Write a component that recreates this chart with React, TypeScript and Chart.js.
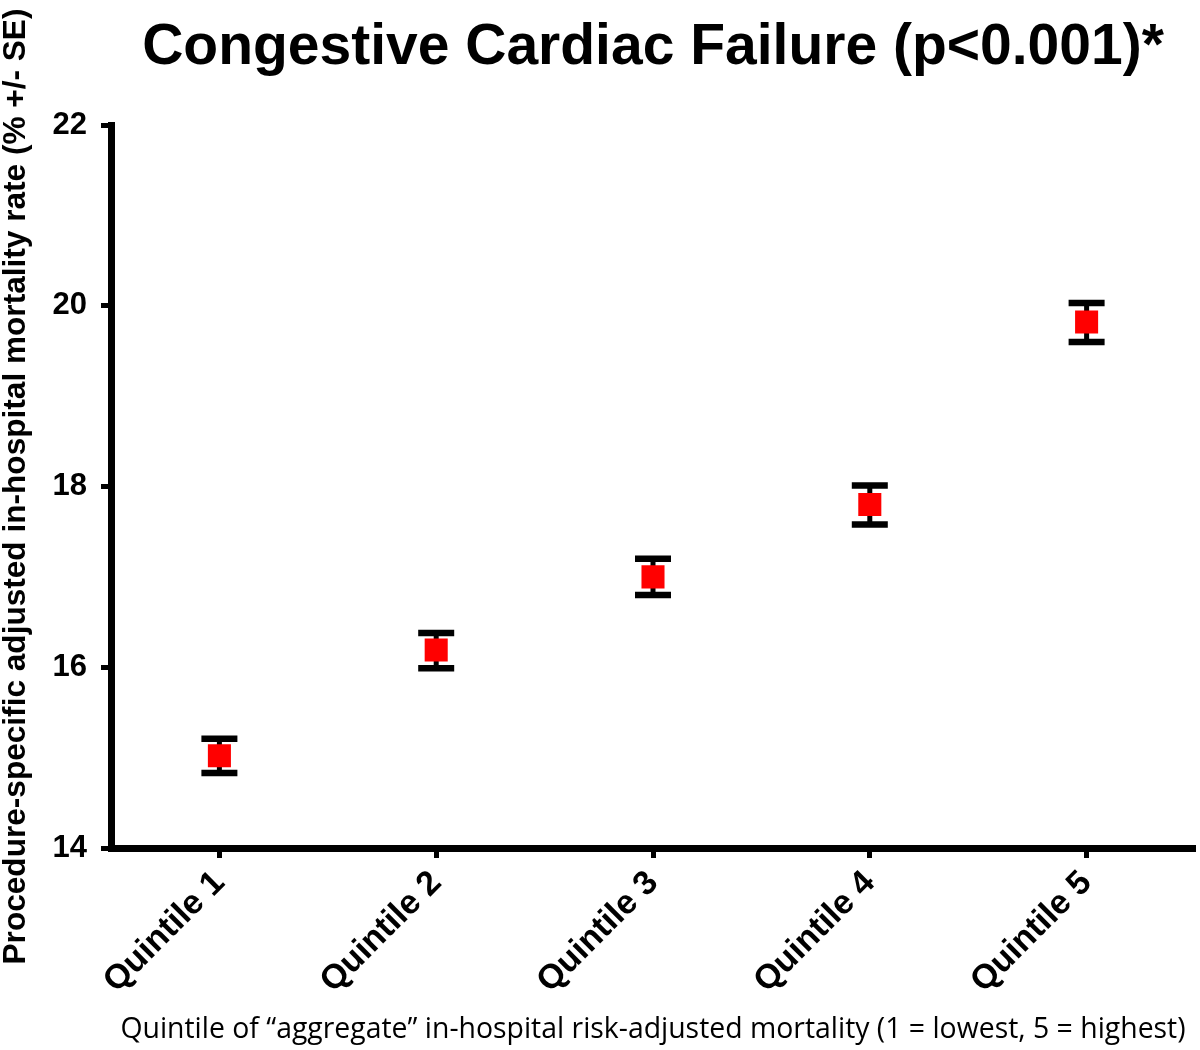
import React, { useEffect, useRef } from "react";
import { Chart, registerables } from "chart.js";

Chart.register(...registerables);

const categories = ["Quintile 1", "Quintile 2", "Quintile 3", "Quintile 4", "Quintile 5"];
const means = [15.02, 16.19, 17.0, 17.8, 19.82];
const upper = [15.21, 16.38, 17.2, 18.01, 20.03];
const lower = [14.83, 15.99, 16.8, 17.58, 19.6];
const yTicks = [14, 16, 18, 20, 22];

const titleText = "Congestive Cardiac Failure (p<0.001)*";
const yTitle = "Procedure-specific adjusted in-hospital mortality rate (% +/- SE)";
const xTitle = "Quintile of \u201caggregate\u201d in-hospital risk-adjusted mortality (1 = lowest, 5 = highest)";

const errorBarPlugin = {
  id: "errorBars",
  beforeDatasetsDraw(chart: any) {
    const { ctx, scales } = chart;
    const xs = scales.x;
    const ys = scales.y;
    ctx.save();
    ctx.strokeStyle = "#000";
    ctx.lineCap = "butt";
    for (let i = 0; i < means.length; i++) {
      const x = xs.getPixelForValue(i);
      const yt = ys.getPixelForValue(upper[i]);
      const yb = ys.getPixelForValue(lower[i]);
      ctx.lineWidth = 5;
      ctx.beginPath();
      ctx.moveTo(x, yt);
      ctx.lineTo(x, yb);
      ctx.stroke();
      ctx.lineWidth = 6.5;
      ctx.beginPath();
      ctx.moveTo(x - 18, yt);
      ctx.lineTo(x + 18, yt);
      ctx.moveTo(x - 18, yb);
      ctx.lineTo(x + 18, yb);
      ctx.stroke();
    }
    ctx.restore();
  },
};

export default function App() {
  const ref = useRef<HTMLCanvasElement | null>(null);
  useEffect(() => {
    if (!ref.current) return;
    const chart = new Chart(ref.current, {
      type: "line",
      data: {
        labels: categories,
        datasets: [
          {
            data: means,
            showLine: false,
            pointStyle: "rect",
            pointRadius: 16.3,
            pointHoverRadius: 16.3,
            pointBackgroundColor: "#ff0000",
            pointBorderWidth: 0,
            borderWidth: 0,
          },
        ],
      },
      options: {
        animation: false,
        responsive: false,
        events: [],
        layout: { autoPadding: false, padding: { left: 0, right: 5, top: 0, bottom: 0 } },
        plugins: {
          legend: { display: false },
          tooltip: { enabled: false },
          title: {
            display: true,
            text: titleText,
            fullSize: false,
            color: "#000",
            font: { family: "'Liberation Sans', Arial, sans-serif", size: 57, weight: "bold", lineHeight: 1.2 },
            padding: { top: 14, bottom: 42.6 },
          },
        },
        scales: {
          x: {
            type: "category",
            offset: true,
            afterFit(scale: any) {
              scale.height = 202;
            },
            border: { display: true, color: "#000", width: 7 },
            grid: {
              display: true,
              drawOnChartArea: false,
              drawTicks: true,
              tickLength: 10,
              tickWidth: 5,
              tickColor: "#000",
              offset: false,
            },
            ticks: {
              color: "#000",
              minRotation: 45,
              maxRotation: 45,
              padding: 5,
              autoSkip: false,
              font: { family: "'Liberation Sans', Arial, sans-serif", size: 34, weight: "bold" },
            },
            title: {
              display: true,
              text: xTitle,
              color: "#000",
              font: { family: "'Open Sans', Lato, sans-serif", size: 28.4, weight: "normal", lineHeight: 1.2 },
              padding: { top: 0, bottom: 3 },
            },
          },
          y: {
            type: "linear",
            min: 14,
            max: 22,
            afterFit(scale: any) {
              scale.width = 111;
            },
            afterBuildTicks(scale: any) {
              scale.ticks = yTicks.map((v) => ({ value: v }));
            },
            border: { display: true, color: "#000", width: 7 },
            grid: {
              display: true,
              drawOnChartArea: false,
              drawTicks: true,
              tickLength: 10,
              tickWidth: 5,
              tickColor: "#000",
            },
            ticks: {
              color: "#000",
              padding: 14,
              font: { family: "'Liberation Sans', Arial, sans-serif", size: 31, weight: "bold" },
            },
            title: {
              display: true,
              text: yTitle,
              color: "#000",
              font: { family: "'Liberation Sans', Arial, sans-serif", size: 31.6, weight: "bold", lineHeight: 1 },
              padding: { top: 0, bottom: 0 },
            },
          },
        },
      },
      plugins: [errorBarPlugin],
    } as any);
    return () => chart.destroy();
  }, []);
  return (
    <div style={{ position: "absolute", left: 0, top: 0, width: 1200, height: 1050, background: "#fff" }}>
      <canvas ref={ref} width={1200} height={1050} style={{ width: 1200, height: 1050, display: "block" }} />
    </div>
  );
}
